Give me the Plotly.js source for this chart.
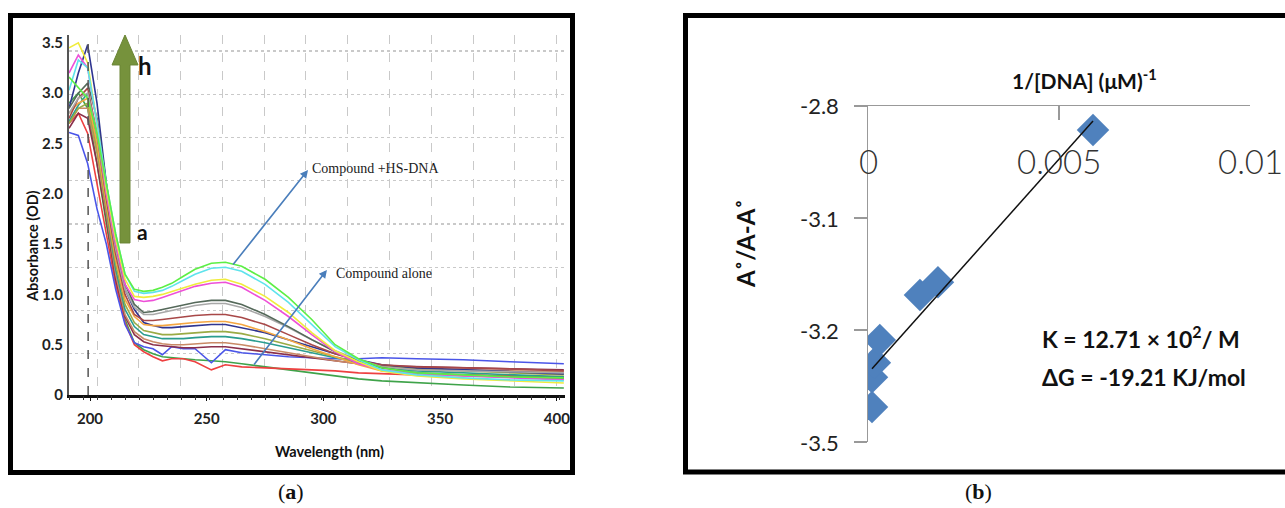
<!DOCTYPE html>
<html>
<head>
<meta charset="utf-8">
<script src="https://cdn.plot.ly/plotly-3.0.1.min.js"></script>
<style>html,body{margin:0;padding:0;background:#fff;}#chart{width:1285px;height:508px;}</style>
</head>
<body>
<div id="chart"></div>
<script>
// ---------- Panel (a): UV-Vis spectra ----------
const WAVELENGTH = [191,195,199,203,207,211,215,219,223,227,231,235,240,245,252,258,265,275,285,295,305,315,325,340,360,380,403];

const ABS_GREEN   = [3.16,3.05,2.95,2.6,2.1,1.6,1.2,1.05,1.03,1.04,1.07,1.11,1.18,1.25,1.31,1.32,1.28,1.15,0.97,0.75,0.5,0.36,0.27,0.22,0.2,0.18,0.17];
const ABS_CYAN    = [3.03,3.33,3.25,2.7,2.1,1.6,1.2,1.03,1.01,1.02,1.04,1.08,1.14,1.2,1.26,1.27,1.23,1.1,0.92,0.7,0.48,0.35,0.25,0.2,0.17,0.15,0.14];
const ABS_YELLOW  = [3.45,3.5,3.3,2.7,2.05,1.55,1.15,0.98,0.97,0.98,1.0,1.03,1.06,1.1,1.14,1.15,1.1,0.98,0.82,0.62,0.44,0.33,0.24,0.19,0.16,0.14,0.12];
const ABS_MAGENTA = [3.2,3.38,3.25,2.7,2.0,1.5,1.1,0.95,0.93,0.94,0.97,1.0,1.04,1.08,1.11,1.12,1.07,0.94,0.78,0.6,0.43,0.31,0.25,0.21,0.19,0.17,0.15];
const ABS_DKGRAY  = [2.85,3.0,3.1,2.75,2.1,1.5,1.1,0.9,0.82,0.83,0.85,0.87,0.9,0.92,0.94,0.94,0.9,0.8,0.68,0.55,0.43,0.34,0.27,0.22,0.2,0.18,0.17];
const ABS_LTGRAY  = [2.8,2.95,3.0,2.6,2.0,1.45,1.05,0.87,0.8,0.8,0.82,0.84,0.87,0.89,0.91,0.91,0.87,0.78,0.67,0.55,0.44,0.35,0.28,0.25,0.24,0.23,0.22];
const ABS_BROWN   = [2.75,2.95,3.05,2.6,1.95,1.4,1.0,0.8,0.74,0.74,0.75,0.76,0.78,0.79,0.8,0.8,0.77,0.7,0.6,0.5,0.41,0.34,0.3,0.28,0.27,0.26,0.24];
const ABS_ORANGE  = [2.8,2.9,2.95,2.5,1.9,1.35,0.95,0.78,0.7,0.69,0.69,0.7,0.71,0.72,0.73,0.73,0.7,0.63,0.55,0.46,0.38,0.3,0.24,0.21,0.19,0.18,0.16];
const ABS_NAVY    = [2.85,3.2,3.48,2.9,2.1,1.45,1.05,0.85,0.72,0.69,0.67,0.67,0.68,0.69,0.7,0.7,0.67,0.62,0.55,0.48,0.41,0.35,0.3,0.27,0.25,0.23,0.21];
const ABS_OLIVE   = [2.7,2.85,2.9,2.45,1.85,1.3,0.9,0.72,0.64,0.62,0.6,0.6,0.61,0.62,0.63,0.63,0.61,0.56,0.5,0.44,0.38,0.33,0.29,0.26,0.24,0.22,0.2];
const ABS_TEAL    = [2.72,2.88,3.0,2.5,1.85,1.25,0.85,0.68,0.6,0.58,0.56,0.56,0.56,0.57,0.58,0.58,0.56,0.52,0.47,0.42,0.37,0.32,0.27,0.24,0.22,0.2,0.18];
const ABS_TAN     = [2.7,2.85,2.85,2.4,1.8,1.2,0.8,0.63,0.56,0.53,0.51,0.5,0.5,0.51,0.52,0.52,0.5,0.46,0.42,0.38,0.34,0.31,0.28,0.26,0.25,0.24,0.23];
const ABS_DKRED   = [2.65,2.8,2.75,2.3,1.75,1.15,0.78,0.6,0.53,0.5,0.49,0.48,0.47,0.47,0.48,0.48,0.46,0.43,0.4,0.37,0.34,0.31,0.29,0.28,0.27,0.26,0.25];
const ABS_BLUE    = [2.61,2.58,2.3,1.85,1.5,1.05,0.7,0.52,0.48,0.46,0.4,0.48,0.46,0.46,0.32,0.45,0.42,0.4,0.38,0.37,0.36,0.36,0.37,0.36,0.35,0.33,0.31];
const ABS_RED     = [2.7,2.8,2.6,2.1,1.6,1.1,0.72,0.5,0.43,0.38,0.34,0.36,0.36,0.33,0.25,0.3,0.28,0.27,0.26,0.25,0.24,0.22,0.21,0.2,0.2,0.19,0.18];
const ABS_GREEN2  = [2.9,3.0,2.85,2.3,1.7,1.15,0.75,0.52,0.45,0.41,0.38,0.37,0.36,0.35,0.34,0.33,0.31,0.28,0.25,0.22,0.19,0.16,0.14,0.12,0.1,0.08,0.07];

const SPECTRA = [ABS_GREEN2, ABS_RED, ABS_BLUE, ABS_DKRED, ABS_TAN, ABS_TEAL, ABS_OLIVE, ABS_NAVY, ABS_ORANGE, ABS_BROWN, ABS_LTGRAY, ABS_DKGRAY, ABS_MAGENTA, ABS_YELLOW, ABS_CYAN, ABS_GREEN];
const SPECTRA_COLORS = ['#3fa34a','#ee4040','#4a55e8','#8a2f4a','#c98a66','#2a9d8f','#9aab45','#2f3590','#f5a742','#a84848','#a8a8a8','#55695a','#ee50d8','#f0ec3c','#5fe3ec','#5cef45'];

const X_TICKS_A = [200,250,300,350,400];
const Y_TICKS_A = [0,0.5,1.0,1.5,2.0,2.5,3.0,3.5];
const Y_TICK_TEXT_A = ['0','0.5','1.0','1.5','2.0','2.5','3.0','3.5'];

// ---------- Panel (b): double reciprocal plot ----------
const INV_DNA = [0.000105,0.000105,0.00018,0.00031,0.00136,0.00183,0.00589];
const RATIO   = [-3.427,-3.365,-3.335,-3.2875,-3.194,-3.167,-2.85];
const X_TICKS_B = [0,0.005,0.01];
const X_TICK_TEXT_B = ['0','0.005','0.01'];
const Y_TICK_TEXT_B = ['-2.8','-3.1','-3.2','-3.5'];

// least-squares trend line
function fit(xs, ys){
  const n = xs.length;
  const mx = xs.reduce((a,b)=>a+b,0)/n, my = ys.reduce((a,b)=>a+b,0)/n;
  let sxy=0, sxx=0;
  for(let i=0;i<n;i++){ sxy+=(xs[i]-mx)*(ys[i]-my); sxx+=(xs[i]-mx)*(xs[i]-mx); }
  const m = sxy/sxx; return {m:m, b:my-m*mx};
}
const lf = fit(INV_DNA, RATIO);
const xmin = Math.min(...INV_DNA), xmax = Math.max(...INV_DNA);

const traces = [];
SPECTRA.forEach((s,i)=>{
  traces.push({x:WAVELENGTH, y:s, mode:'lines', line:{color:SPECTRA_COLORS[i], width:1.6}, xaxis:'x', yaxis:'y', hoverinfo:'skip', showlegend:false});
});
traces.push({x:[], y:[], xaxis:'x3', yaxis:'y', showlegend:false, hoverinfo:'skip'});
traces.push({x:INV_DNA, y:RATIO, mode:'markers', marker:{symbol:'diamond', size:25, color:'#4f81bd'}, xaxis:'x2', yaxis:'y2', showlegend:false});
traces.push({x:[xmin,xmax], y:[lf.b+lf.m*xmin, lf.b+lf.m*xmax], mode:'lines', line:{color:'#111', width:1.5}, xaxis:'x2', yaxis:'y2', showlegend:false});

const W=1285, H=508;
const px = v=>v/W, py = v=>1-v/H;
const XR_A = [191,403.5], YR_A=[0,3.578];
const YR_B = [-3.5,-2.8];
const yTicksB = Y_TICK_TEXT_B.map((t,i)=>YR_B[1]-(YR_B[1]-YR_B[0])*i/(Y_TICK_TEXT_B.length-1));

const tickFontA = {family:'Lato', size:15, color:'#222', weight:'bold'};

const ann = [
  {x:294.2, y:2.256, xref:'x', yref:'y', xanchor:'left', yanchor:'middle', text:'Compound +HS-DNA', showarrow:false, font:{family:'Liberation Serif', size:14, color:'#222'}},
  {x:293.4, y:2.237, ax:260.8, ay:1.282, xref:'x', yref:'y', axref:'x', ayref:'y', text:'', showarrow:true, arrowhead:2, arrowsize:1, arrowwidth:1.6, arrowcolor:'#4a7ebb'},
  {x:304.5, y:1.203, xref:'x', yref:'y', xanchor:'left', yanchor:'middle', text:'Compound alone', showarrow:false, font:{family:'Liberation Serif', size:14, color:'#222'}},
  {x:301.5, y:1.243, ax:269.8, ay:0.288, xref:'x', yref:'y', axref:'x', ayref:'y', text:'', showarrow:true, arrowhead:2, arrowsize:1, arrowwidth:1.6, arrowcolor:'#4a7ebb'},
  {x:223.6, y:3.27, xref:'x', yref:'y', xanchor:'center', yanchor:'middle', text:'<b>h</b>', showarrow:false, font:{family:'Lato', size:24, color:'#111'}},
  {x:222.3, y:1.63, xref:'x', yref:'y', xanchor:'center', yanchor:'middle', text:'<b>a</b>', showarrow:false, font:{family:'Lato', size:21, color:'#111'}},
  {x:px(32), y:py(247), xref:'paper', yref:'paper', xanchor:'center', yanchor:'middle', text:'<b>Absorbance (OD)</b>', textangle:-90, showarrow:false, font:{family:'Lato', size:14.5, color:'#111'}},
  {x:px(329), y:py(451), xref:'paper', yref:'paper', xanchor:'center', yanchor:'middle', text:'<b>Wavelength (nm)</b>', showarrow:false, font:{family:'Lato', size:14.5, color:'#111'}},
  {x:px(291), y:py(491), xref:'paper', yref:'paper', xanchor:'center', yanchor:'middle', text:'(<b>a</b>)', showarrow:false, font:{family:'Liberation Serif', size:22, color:'#111'}},
  {x:px(978), y:py(491), xref:'paper', yref:'paper', xanchor:'center', yanchor:'middle', text:'(<b>b</b>)', showarrow:false, font:{family:'Liberation Serif', size:22, color:'#111'}},
  {x:px(745), y:py(244), xref:'paper', yref:'paper', xanchor:'center', yanchor:'middle', text:'<b>A˚/A-A˚</b>', textangle:-90, showarrow:false, font:{family:'Lato', size:24, color:'#111'}},
  {x:px(1084), y:py(79), xref:'paper', yref:'paper', xanchor:'center', yanchor:'middle', text:'<b>1/[DNA] (μM)<sup>-1</sup></b>', showarrow:false, font:{family:'Lato', size:21, color:'#111'}},
  {x:px(1040), y:py(337), xref:'paper', yref:'paper', xanchor:'left', yanchor:'middle', text:'<b>K = 12.71 × 10<sup>2</sup>/ M</b>', showarrow:false, font:{family:'Lato', size:23, color:'#111'}},
  {x:px(1040), y:py(377), xref:'paper', yref:'paper', xanchor:'left', yanchor:'middle', text:'<b>ΔG = -19.21 KJ/mol</b>', showarrow:false, font:{family:'Lato', size:23, color:'#111'}}
];
// tick labels of panel (b), placed through the panel's own axes
X_TICKS_B.forEach((v,i)=>ann.push({x:v, y:py(161), xref:'x2', yref:'paper', xanchor:'center', yanchor:'middle', text:X_TICK_TEXT_B[i], showarrow:false, font:{family:'Lato', size:33, color:'#333', weight:300}}));
yTicksB.forEach((v,i)=>ann.push({x:px(841), y:v, xref:'paper', yref:'y2', xanchor:'right', yanchor:'middle', text:Y_TICK_TEXT_B[i], showarrow:false, font:{family:'Lato', size:22, color:'#222'}}));

const layout = {
  width:W, height:H, margin:{l:0,r:0,t:0,b:0},
  paper_bgcolor:'#fff', plot_bgcolor:'rgba(0,0,0,0)', showlegend:false,
  font:{family:'Lato'},
  xaxis:{domain:[px(69),px(565)], range:XR_A, anchor:'y', tickmode:'array', tickvals:X_TICKS_A,
    ticks:'outside', ticklen:3, tickcolor:'#111', showline:true, linecolor:'#111', linewidth:2.5,
    showgrid:false, zeroline:false, tickfont:tickFontA, ticklabelstandoff:5,
    minor:{tick0:203, dtick:17.9, showgrid:true, gridcolor:'#c9c9c9', griddash:'dash', gridwidth:1, ticks:''}},
  xaxis3:{overlaying:'x', anchor:'y', range:XR_A, side:'bottom', tick0:197, dtick:6, ticks:'outside', ticklen:4, tickcolor:'#333',
    showticklabels:false, showgrid:false, showline:false, zeroline:false},
  yaxis:{domain:[py(395),py(35)], range:YR_A, anchor:'x', tickmode:'array', tickvals:Y_TICKS_A, ticktext:Y_TICK_TEXT_A,
    ticks:'', showline:true, linecolor:'#555', linewidth:2, showgrid:false, zeroline:false, tickfont:tickFontA, ticklabelstandoff:1,
    minor:{tick0:0.41, dtick:0.43, showgrid:true, gridcolor:'#c9c9c9', griddash:'dot', gridwidth:1.2, ticks:''}},
  xaxis2:{domain:[px(868),px(1250)], range:[0,0.01], anchor:'y2', side:'top', tickmode:'array', tickvals:X_TICKS_B,
    ticks:'inside', ticklen:14, tickcolor:'#999', tickwidth:1.5, showline:true, linecolor:'#999', linewidth:1.5,
    showticklabels:false, showgrid:false, zeroline:false},
  yaxis2:{domain:[py(442),py(106)], range:YR_B, anchor:'x2', tickmode:'array', tickvals:yTicksB,
    ticks:'outside', ticklen:13, tickcolor:'#999', tickwidth:1.5, showline:true, linecolor:'#999', linewidth:1.5,
    showticklabels:false, showgrid:false, zeroline:false},
  shapes:[
    {type:'rect', xref:'paper', yref:'paper', x0:px(10.5), x1:px(572.5), y0:py(472.5), y1:py(15.5), line:{color:'#000', width:5}},
    {type:'rect', xref:'paper', yref:'paper', x0:px(685.5), x1:px(1295), y0:py(472), y1:py(15.5), line:{color:'#000', width:5}},
    {type:'line', xref:'x', yref:'y', x0:199.2, x1:199.2, y0:-0.18, y1:3.578, line:{color:'#555', width:1.5, dash:'dash'}},
    {type:'path', xref:'x', yref:'y', fillcolor:'#76923c', line:{color:'#6a8535', width:1},
     path:'M 212.85 1.511 L 217.13 1.511 L 217.13 3.28 L 220.56 3.28 L 214.99 3.579 L 209.43 3.28 L 212.85 3.28 Z'}
  ],
  annotations:ann
};

Plotly.newPlot('chart', traces, layout, {staticPlot:true, displayModeBar:false});
</script>
</body>
</html>
